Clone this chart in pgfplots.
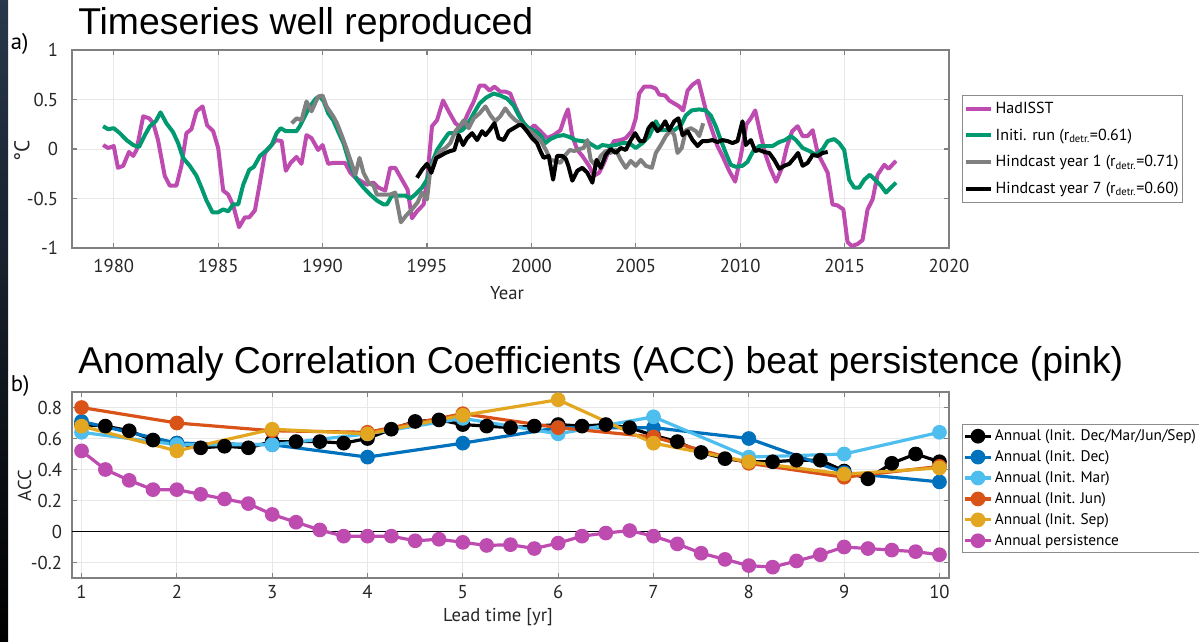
\documentclass[border=0pt]{standalone}
\usepackage{pgfplots}
\pgfplotsset{compat=1.18}
\usepackage{fontspec}
\setmainfont{PT Sans}
\newfontfamily\titlefont{Liberation Sans}
\definecolor{cMag}{RGB}{190,75,175}
\definecolor{cGreen}{RGB}{0,153,112}
\definecolor{cGray}{RGB}{128,128,128}
\definecolor{cDBlue}{RGB}{0,114,189}
\definecolor{cLBlue}{RGB}{77,190,238}
\definecolor{cOrange}{RGB}{217,83,25}
\definecolor{cGold}{RGB}{226,166,32}
\definecolor{cTick}{RGB}{38,38,38}
\pgfplotsset{
  mystyle/.style={
    scale only axis,
    axis line style={draw=black!50, line width=0.8pt},
    tick align=inside,
    tick pos=both,
    major tick length=4pt,
    every tick/.style={draw=black!50, line width=0.8pt},
    grid=major,
    major grid style={draw=black!9, line width=0.6pt},
    tick label style={font=\fontsize{14}{16}\selectfont, text=cTick},
    clip=true,
  }
}
\begin{document}
\begin{tikzpicture}
\path[use as bounding box] (0pt,0pt) rectangle (899.25pt,481.5pt);
\shade[top color={rgb,255:red,40;green,55;blue,75}, bottom color=black] (0pt,0pt) rectangle (6pt,481.5pt);
% titles
\node[anchor=base west, inner sep=0, font=\titlefont\fontsize{28}{30}\selectfont] at (58.5pt,455.25pt) {Timeseries well reproduced};
\node[anchor=base west, inner sep=0, font=\titlefont\fontsize{28}{30}\selectfont] at (58.5pt,201pt) {Anomaly Correlation Coefficients (ACC) beat persistence (pink)};
\node[anchor=base west, inner sep=0, font=\fontsize{17}{19}\selectfont] at (8pt,444pt) {a)};
\node[anchor=base west, inner sep=0, font=\fontsize{17}{19}\selectfont] at (8pt,188pt) {b)};
% axis labels
\node[rotate=90, font=\fontsize{16}{18}\selectfont, text=cTick] at (16.5pt,368.25pt) {°C};
\node[font=\fontsize{14}{16}\selectfont, text=cTick] at (380.25pt,262pt) {Year};
\node[rotate=90, font=\fontsize{14}{16}\selectfont, text=cTick] at (18.4pt,117.4pt) {ACC};
\node[font=\fontsize{14}{16}\selectfont, text=cTick] at (373.5pt,18.5pt) {Lead time [yr]};

\begin{axis}[mystyle, at={(54pt,295.5pt)}, anchor=south west,
  width=657.75pt, height=148.5pt,
  xmin=1978, xmax=2020, ymin=-1, ymax=1,
  xtick={1980,1985,1990,1995,2000,2005,2010,2015,2020},
  xticklabels={1980,1985,1990,1995,2000,2005,2010,2015,2020},
  ytick={-1,-0.5,0,0.5,1},
  yticklabels={-1,-0.5,0,0.5,1},
  xticklabel shift=5pt,
  yticklabel shift=7pt,
  legend style={at={(1.0148,0.773)}, anchor=north west, draw=black!45, line width=0.6pt,
    font=\fontsize{12}{14}\selectfont, inner xsep=1pt, inner ysep=3pt, row sep=6pt},
  legend cell align=left,
  legend image code/.code={\draw[#1] (0pt,0pt) -- (19pt,0pt);},
]
\addplot[cMag, line width=3pt, line join=round] table {
1979.49 0.04
1979.73 0.01
1980.0 0.03
1980.2 -0.19
1980.45 -0.17
1980.73 -0.03
1980.93 -0.07
1981.09 -0.01
1981.41 0.33
1981.7 0.31
1981.89 0.26
1982.12 0.09
1982.44 -0.27
1982.68 -0.37
1983.0 -0.37
1983.24 -0.17
1983.48 0.16
1983.72 0.2
1983.96 0.38
1984.25 0.43
1984.47 0.24
1984.76 0.18
1985.0 0.01
1985.24 -0.42
1985.48 -0.46
1985.72 -0.57
1986.0 -0.79
1986.28 -0.69
1986.49 -0.69
1986.76 -0.62
1987.0 -0.34
1987.24 -0.04
1987.48 0.02
1987.76 0.09
1988.04 0.08
1988.24 -0.22
1988.47 -0.14
1988.75 -0.08
1988.99 -0.15
1989.23 0.14
1989.47 0.11
1989.79 -0.01
1990.0 0.04
1990.27 -0.15
1990.51 -0.14
1991.08 -0.14
1991.33 -0.24
1991.57 -0.29
1991.8 -0.32
1992.12 -0.36
1992.44 -0.34
1992.68 -0.39
1993.0 -0.42
1993.24 -0.19
1993.48 -0.19
1993.8 -0.31
1994.07 -0.41
1994.28 -0.7
1994.52 -0.63
1994.84 -0.56
1995.03 -0.26
1995.24 0.23
1995.48 0.29
1995.77 0.49
1996.04 0.38
1996.36 0.26
1996.68 0.21
1996.92 0.34
1997.24 0.48
1997.52 0.64
1997.76 0.64
1998.0 0.59
1998.23 0.63
1998.51 0.58
1998.75 0.58
1998.99 0.56
1999.23 0.43
1999.55 0.29
1999.87 0.19
2000.14 0.24
2000.43 0.18
2000.75 0.11
2001.07 0.14
2001.39 0.19
2001.63 0.34
2001.75 0.40
2001.96 0.13
2002.2 -0.01
2002.44 -0.07
2002.76 -0.17
2003.0 -0.27
2003.24 -0.24
2003.48 -0.14
2003.72 -0.01
2003.96 0.08
2004.28 0.09
2004.52 0.11
2004.81 0.18
2005.0 0.31
2005.16 0.56
2005.4 0.63
2005.72 0.63
2005.96 0.61
2006.12 0.55
2006.41 0.54
2006.6 0.49
2006.84 0.46
2007.08 0.43
2007.27 0.39
2007.48 0.59
2007.72 0.65
2008.0 0.69
2008.19 0.53
2008.43 0.33
2008.67 0.18
2008.91 0.03
2009.15 -0.07
2009.47 -0.22
2009.76 -0.33
2010.03 -0.07
2010.3 0.25
2010.51 0.31
2010.72 0.39
2010.95 0.17
2011.2 -0.05
2011.43 -0.19
2011.72 -0.33
2012.0 -0.19
2012.23 0.02
2012.49 0.18
2012.75 0.23
2012.99 0.13
2013.23 0.13
2013.47 0.19
2013.71 -0.04
2013.95 -0.14
2014.19 -0.24
2014.42 -0.56
2014.66 -0.57
2014.94 -0.61
2015.14 -0.94
2015.35 -0.98
2015.62 -0.96
2015.86 -0.92
2016.1 -0.61
2016.34 -0.51
2016.58 -0.26
2016.9 -0.16
2017.11 -0.2
2017.46 -0.12
};
\addlegendentry{HadISST}
\addplot[cGreen, line width=3pt, line join=round] table {
1979.49 0.23
1979.73 0.2
1980.0 0.21
1980.29 0.16
1980.61 0.09
1980.93 0.04
1981.21 0.02
1981.49 0.14
1981.73 0.23
1982.01 0.28
1982.24 0.37
1982.52 0.26
1982.84 0.17
1983.08 0.06
1983.32 -0.09
1983.64 -0.17
1983.96 -0.27
1984.2 -0.39
1984.44 -0.52
1984.73 -0.64
1985.0 -0.64
1985.24 -0.61
1985.48 -0.63
1985.72 -0.56
1985.96 -0.56
1986.2 -0.36
1986.49 -0.21
1986.71 -0.18
1987.0 -0.07
1987.28 -0.02
1987.56 0.04
1987.8 0.16
1987.99 0.21
1988.24 0.18
1988.56 0.18
1988.75 0.18
1988.91 0.23
1989.15 0.33
1989.39 0.43
1989.68 0.51
1989.87 0.53
1990.06 0.48
1990.27 0.36
1990.51 0.29
1990.8 0.15
1991.0 0.06
1991.33 -0.17
1991.65 -0.31
1991.96 -0.39
1992.28 -0.46
1992.6 -0.52
1992.92 -0.56
1993.08 -0.56
1993.32 -0.47
1993.64 -0.47
1993.96 -0.47
1994.2 -0.5
1994.44 -0.46
1994.76 -0.39
1995.0 -0.31
1995.24 -0.14
1995.48 -0.01
1995.8 0.09
1996.04 0.16
1996.36 0.16
1996.68 0.19
1996.92 0.24
1997.24 0.36
1997.52 0.46
1997.84 0.52
1998.19 0.56
1998.51 0.54
1998.83 0.51
1999.15 0.44
1999.39 0.34
1999.63 0.26
1999.87 0.21
2000.19 0.18
2000.43 0.14
2000.67 0.06
2000.91 0.1
2001.23 0.13
2001.55 0.14
2001.84 0.12
2002.1 0.09
2002.4 0.08
2002.7 0.07
2002.92 0.04
2003.16 0.01
2003.4 0.04
2003.72 0.03
2004.04 0.04
2004.36 0.06
2004.68 0.06
2005.0 0.01
2005.32 0.06
2005.64 0.13
2005.96 0.28
2006.2 0.19
2006.52 0.19
2006.84 0.19
2007.16 0.24
2007.4 0.34
2007.68 0.39
2008.04 0.4
2008.35 0.39
2008.59 0.34
2008.83 0.23
2009.07 0.09
2009.31 -0.04
2009.55 -0.16
2009.79 -0.18
2010.11 -0.17
2010.35 -0.13
2010.6 -0.03
2010.91 0.03
2011.2 0.03
2011.55 0.03
2011.87 0.07
2012.15 0.09
2012.43 0.13
2012.67 0.09
2012.99 0.01
2013.31 -0.02
2013.63 -0.06
2013.95 0.0
2014.19 0.08
2014.5 0.1
2014.74 0.06
2014.98 -0.01
2015.22 -0.31
2015.46 -0.39
2015.7 -0.39
2015.94 -0.31
2016.21 -0.26
2016.5 -0.32
2016.74 -0.37
2016.98 -0.44
2017.22 -0.39
2017.46 -0.34
};
\addlegendentry{Initi. run (r\textsubscript{detr.}=0.61)}
\addplot[cGray, line width=3pt, line join=round] table {
1988.52 0.26
1988.76 0.31
1988.99 0.29
1989.23 0.48
1989.47 0.38
1989.79 0.53
1990.0 0.54
1990.19 0.43
1990.51 0.33
1990.69 0.26
1990.93 0.13
1991.17 -0.01
1991.41 -0.16
1991.57 -0.26
1991.77 -0.09
1991.96 -0.24
1992.2 -0.34
1992.44 -0.37
1992.6 -0.46
1992.92 -0.46
1993.24 -0.46
1993.48 -0.44
1993.75 -0.74
1994.01 -0.67
1994.28 -0.61
1994.55 -0.54
1994.76 -0.44
1995.0 -0.51
1995.16 -0.21
1995.4 -0.09
1995.64 -0.02
1995.88 0.01
1996.12 0.06
1996.36 0.18
1996.6 0.24
1996.76 0.29
1997.0 0.21
1997.24 0.31
1997.52 0.36
1997.8 0.43
1998.04 0.34
1998.27 0.28
1998.51 0.33
1998.75 0.41
1998.99 0.34
1999.23 0.29
1999.47 0.26
1999.71 0.21
1999.95 0.18
2000.19 0.13
2000.43 0.09
2000.72 -0.02
2000.91 -0.11
2001.15 -0.12
2001.39 -0.14
2001.63 -0.06
2001.84 -0.01
2002.05 -0.02
2002.3 0.0
2002.5 0.01
2002.68 0.09
2002.84 -0.11
2003.08 -0.17
2003.32 -0.07
2003.56 -0.02
2003.8 -0.04
2004.04 -0.01
2004.28 -0.11
2004.52 -0.19
2004.76 -0.12
2005.0 -0.17
2005.24 -0.11
2005.48 -0.17
2005.77 -0.19
2005.96 -0.04
2006.2 0.04
2006.44 0.13
2006.68 0.19
2006.84 0.14
2007.0 -0.04
2007.2 0.01
2007.4 0.19
2007.64 0.21
2007.88 0.18
2008.04 0.13
2008.23 0.26
};
\addlegendentry{Hindcast year 1 (r\textsubscript{detr.}=0.71)}
\addplot[black, line width=3pt, line join=round] table {
1994.52 -0.29
1994.76 -0.21
1995.0 -0.15
1995.21 -0.24
1995.45 -0.09
1995.64 -0.07
1995.88 -0.04
1996.12 -0.02
1996.31 -0.01
1996.52 0.14
1996.73 0.04
1996.92 0.11
1997.16 0.16
1997.4 0.09
1997.64 0.18
1997.8 0.14
1998.0 0.19
1998.23 0.26
1998.43 0.11
1998.67 0.09
1998.91 0.18
1999.15 0.21
1999.39 0.24
1999.55 0.24
1999.79 0.18
2000.03 0.11
2000.27 0.06
2000.43 -0.02
2000.59 -0.09
2000.83 -0.07
2001.04 -0.31
2001.23 -0.07
2001.47 -0.07
2001.65 -0.1
2001.77 -0.17
2001.96 -0.32
2002.2 -0.22
2002.44 -0.19
2002.68 -0.24
2002.92 -0.34
2003.12 -0.11
2003.32 -0.19
2003.56 -0.06
2003.8 0.0
2004.04 -0.04
2004.28 0.01
2004.52 -0.01
2004.76 0.09
2004.97 0.16
2005.19 0.08
2005.4 0.08
2005.61 0.21
2005.8 0.26
2006.04 0.18
2006.2 0.21
2006.41 0.28
2006.6 0.19
2006.84 0.28
2007.04 0.31
2007.24 0.14
2007.48 0.18
2007.72 0.09
2007.96 0.03
2008.19 0.08
2008.43 0.08
2008.67 0.09
2008.91 0.07
2009.15 0.09
2009.39 0.08
2009.63 0.06
2009.87 0.08
2010.11 0.28
2010.27 0.04
2010.51 0.09
2010.72 -0.02
2010.91 -0.01
2011.15 -0.03
2011.39 -0.04
2011.63 -0.11
2011.87 -0.2
2012.11 -0.17
2012.35 -0.15
2012.59 -0.09
2012.77 -0.04
2012.99 -0.17
2013.23 -0.14
2013.47 -0.06
2013.71 -0.07
2013.95 -0.04
2014.19 -0.03
};
\addlegendentry{Hindcast year 7 (r\textsubscript{detr.}=0.60)}
\end{axis}

\begin{axis}[mystyle, at={(54pt,48pt)}, anchor=south west,
  width=657.75pt, height=139.5pt,
  xmin=0.9, xmax=10.1, ymin=-0.3, ymax=0.9,
  xtick={1,2,3,4,5,6,7,8,9,10},
  xticklabels={1,2,3,4,5,6,7,8,9,10},
  ytick={-0.2,0,0.2,0.4,0.6,0.8},
  yticklabels={-0.2,0,0.2,0.4,0.6,0.8},
  xticklabel shift=2pt,
  yticklabel shift=4pt,
  legend style={at={(1.0148,0.828)}, anchor=north west, draw=black!45, line width=0.6pt,
    font=\fontsize{11.5}{13}\selectfont, inner xsep=1pt, inner ysep=2pt, row sep=2pt},
  legend cell align=left,
  legend image code/.code={\draw[#1, mark repeat=2, mark phase=2] plot coordinates {(0pt,0pt) (9.5pt,0pt) (19pt,0pt)};},
  every axis plot/.append style={line width=2.4pt, mark=*, mark size=4.3pt, mark options={solid}},
]
\addplot[black, line width=1.3pt, mark=none, forget plot] coordinates {(0.9,0) (10.1,0)};
\addplot[black] table {
1 0.69
1.25 0.68
1.5 0.65
1.75 0.59
2 0.57
2.25 0.54
2.5 0.55
2.75 0.54
3 0.58
3.25 0.58
3.5 0.58
3.75 0.57
4 0.60
4.25 0.66
4.5 0.71
4.75 0.72
5 0.69
5.25 0.68
5.5 0.67
5.75 0.68
6 0.69
6.25 0.68
6.5 0.69
6.75 0.67
7 0.62
7.25 0.58
7.5 0.51
7.75 0.47
8 0.45
8.25 0.45
8.5 0.46
8.75 0.46
9 0.39
9.25 0.34
9.5 0.44
9.75 0.50
10 0.45
};
\addlegendentry{Annual (Init. Dec/Mar/Jun/Sep)}
\addplot[cDBlue] table {
1 0.71
2 0.57
3 0.56
4 0.48
5 0.57
6 0.67
7 0.67
8 0.60
9 0.38
10 0.32
};
\addlegendentry{Annual (Init. Dec)}
\addplot[cLBlue] table {
1 0.64
2 0.56
3 0.56
4 0.63
5 0.73
6 0.63
7 0.74
8 0.48
9 0.50
10 0.64
};
\addlegendentry{Annual (Init. Mar)}
\addplot[cOrange] table {
1 0.80
2 0.70
3 0.65
4 0.64
5 0.76
6 0.67
7 0.61
8 0.44
9 0.35
10 0.42
};
\addlegendentry{Annual (Init. Jun)}
\addplot[cGold] table {
1 0.68
2 0.52
3 0.66
4 0.63
5 0.75
6 0.85
7 0.57
8 0.45
9 0.37
10 0.41
};
\addlegendentry{Annual (Init. Sep)}
\addplot[cMag] table {
1 0.52
1.25 0.40
1.5 0.33
1.75 0.27
2 0.27
2.25 0.24
2.5 0.21
2.75 0.18
3 0.11
3.25 0.06
3.5 0.01
3.75 -0.03
4 -0.03
4.25 -0.03
4.5 -0.06
4.75 -0.05
5 -0.07
5.25 -0.09
5.5 -0.085
5.75 -0.11
6 -0.075
6.25 -0.03
6.5 -0.01
6.75 0.006
7 -0.03
7.25 -0.08
7.5 -0.14
7.75 -0.18
8 -0.22
8.25 -0.23
8.5 -0.19
8.75 -0.15
9 -0.10
9.25 -0.11
9.5 -0.12
9.75 -0.13
10 -0.15
};
\addlegendentry{Annual persistence}
\end{axis}
\end{tikzpicture}
\end{document}
